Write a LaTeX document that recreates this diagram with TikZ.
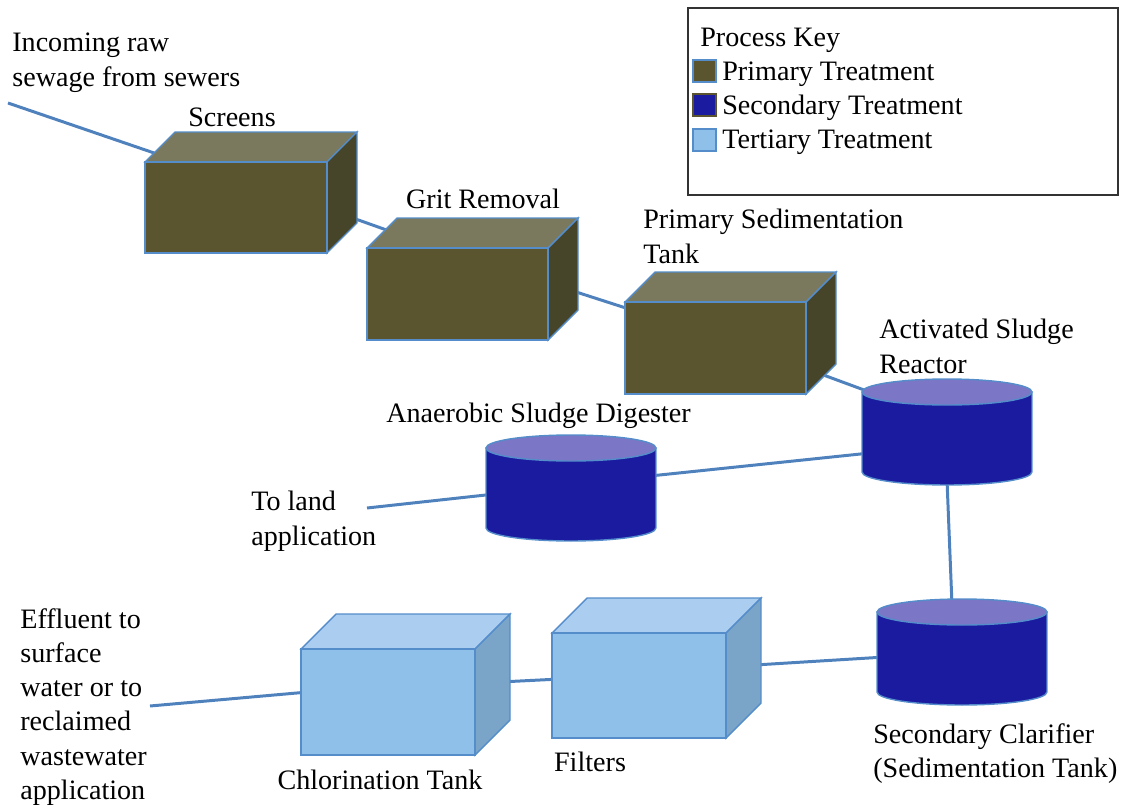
\documentclass[tikz,border=0pt]{standalone}
\usepackage{fontspec}
\setmainfont{Liberation Serif}
\usetikzlibrary{calc}
\definecolor{pipe}{RGB}{79,129,189}
\definecolor{rim}{RGB}{84,141,202}
\definecolor{prifront}{RGB}{90,84,47}
\definecolor{pritop}{RGB}{122,121,94}
\definecolor{priside}{RGB}{70,69,42}
\definecolor{secbody}{RGB}{27,27,160}
\definecolor{sectop}{RGB}{123,118,198}
\definecolor{terfront}{RGB}{143,192,233}
\definecolor{tertop}{RGB}{170,205,240}
\definecolor{terside}{RGB}{123,165,200}
% front top-left corner (x,y), width:height:depth, colour prefix
\def\cuboid(#1,#2)(#3:#4:#5)#6{
	\filldraw[draw=rim,line width=0.8pt,fill=#6top] (#1,#2) -- ++(#5,-#5) -- ++(#3,0) -- ++(-#5,#5) -- cycle;
	\filldraw[draw=rim,line width=0.8pt,fill=#6side] (#1+#3,#2) -- ++(#5,-#5) -- ++(0,#4) -- ++(-#5,#5) -- cycle;
	\filldraw[draw=rim,line width=0.8pt,fill=#6front] (#1,#2) rectangle ++(#3,#4);}
% centre of the lid (x,y)
\def\tank(#1,#2){
	\filldraw[draw=rim,line width=0.8pt,fill=secbody] (#1-85,#2) -- ++(0,80) arc (180:360:1.7cm and 0.26cm) -- ++(0,-80) -- cycle;
	\filldraw[draw=rim,line width=0.8pt,fill=sectop] (#1,#2) ellipse (1.7cm and 0.26cm);}

\begin{document}
\begin{tikzpicture}[x=0.02cm,y=-0.02cm,
	txt/.style={inner sep=0pt,align=left,font=\fontsize{16}{19.5}\selectfont},
	flow/.style={pipe,line width=1.7pt}]
		%%%%% START %%%%%
		\useasboundingbox (0,0) rectangle (1133,808);
		
		% pipe ends
		\coordinate (sewer) at (8,103);
		\coordinate (scrin) at (160,155);
		\coordinate (scrout) at (350,217);
		\coordinate (gritin) at (395,233);
		\coordinate (gritout) at (570,290);
		\coordinate (pstin) at (632,310);
		\coordinate (pstout) at (818,373);
		\coordinate (asrin) at (875,394);
		\coordinate (asrleft) at (870,453);
		\coordinate (asdright) at (650,476);
		\coordinate (asdleft) at (495,494);
		\coordinate (land) at (367,508);
		\coordinate (asrdown) at (947,480);
		\coordinate (clarup) at (952,605);
		\coordinate (clarleft) at (885,657);
		\coordinate (filtright) at (755,665);
		\coordinate (filtleft) at (560,679);
		\coordinate (chlright) at (500,682);
		\coordinate (chlleft) at (308,692);
		\coordinate (outfall) at (150,706);
		
		\draw[flow] (sewer) -- (scrin);
		\draw[flow] (scrout) -- (gritin);
		\draw[flow] (gritout) -- (pstin);
		\draw[flow] (pstout) -- (asrin);
		\draw[flow] (asrleft) -- (asdright);
		\draw[flow] (asdleft) -- (land);
		\draw[flow] (asrdown) -- (clarup);
		\draw[flow] (clarleft) -- (filtright);
		\draw[flow] (filtleft) -- (chlright);
		\draw[flow] (chlleft) -- (outfall);
		
		% primary
		\cuboid(145,162)(182:91:30){pri}
		\cuboid(367,248)(181:92:30){pri}
		\cuboid(625,302)(181:92:30){pri}
		
		% secondary
		\tank(947,392)
		\tank(571,448)
		\tank(962,612)
		
		% tertiary
		\cuboid(301,649)(174:106:35){ter}
		\cuboid(552,633)(174:105:35){ter}
		
		% texts
		\node[txt,anchor=north west] (incoming) at (12,33) {Incoming raw\\sewage from sewers};
		\node[txt,anchor=base] (scrtext) at (232,126) {Screens};
		\node[txt,anchor=base] (grittext) at (483,208) {Grit Removal};
		\node[txt,anchor=north west] (psttext) at (643,209) {Primary Sedimentation\\Tank};
		\node[txt,anchor=north west] (asrtext) at (879,319) {Activated Sludge\\Reactor};
		\node[txt,anchor=base west] (asdtext) at (386,422) {Anaerobic Sludge Digester};
		\node[txt,anchor=north west] (landtext) at (251,491) {To land\\application};
		\node[txt,anchor=north west] (outtext) at (20,608) {Effluent to\\surface\\water or to\\reclaimed\\wastewater\\application};
		\node[txt,anchor=base] (chltext) at (380,789) {Chlorination Tank};
		\node[txt,anchor=base] (filttext) at (590,771) {Filters};
		\node[txt,anchor=north west] (clartext) at (873,723) {Secondary Clarifier\\(Sedimentation Tank)};
		
		% key
		\draw[black!80,line width=0.8pt] (688,8) rectangle (1118,195);
		\node[txt,anchor=base west] (keytitle) at (700,46) {Process Key};
		\filldraw[draw=rim,line width=1pt,fill=prifront] (693,60) rectangle (716,82);
		\filldraw[draw=prifront,line width=1pt,fill=secbody] (693,94) rectangle (716,116);
		\filldraw[draw=rim,line width=1pt,fill=terfront] (693,129) rectangle (716,151);
		\node[txt,anchor=base west] (keypri) at (722,80) {Primary Treatment};
		\node[txt,anchor=base west] (keysec) at (722,114) {Secondary Treatment};
		\node[txt,anchor=base west] (keyter) at (722,148) {Tertiary Treatment};
		%%%%% END %%%%%
\end{tikzpicture}
\end{document}
